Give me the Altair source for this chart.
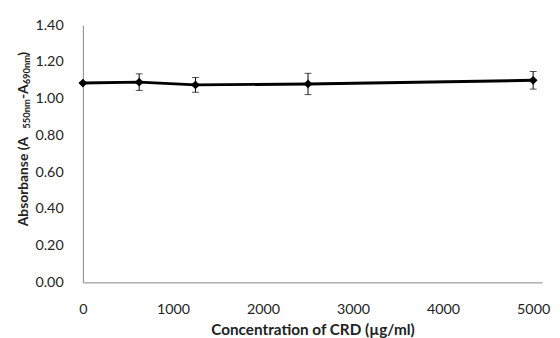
import altair as alt
import pandas as pd

conc = [0, 625, 1250, 2500, 5000]
absorb = [1.085, 1.09, 1.075, 1.08, 1.10]
err = [0.0, 0.045, 0.04, 0.058, 0.048]
x_ticks = [0, 1000, 2000, 3000, 4000, 5000]
y_ticks = [0, 0.2, 0.4, 0.6, 0.8, 1.0, 1.2, 1.4]

df = pd.DataFrame({"conc": conc, "abs": absorb, "err": err})
df["lo"] = df["abs"] - df["err"]
df["hi"] = df["abs"] + df["err"]

FONT = "Lato"
TXT = "#222222"

x_scale = alt.Scale(domain=[0, 5100], nice=False)
y_scale = alt.Scale(domain=[0, 1.4], nice=False)
x_axis = alt.Axis(title="Concentration of CRD (µg/ml)", values=x_ticks,
                  format="d", grid=False, ticks=False, labelPadding=21,
                  domainColor="#868686", titleFontWeight="bold", titlePadding=6,
                  labelFlush=False, labelOverlap=False)
y_axis = alt.Axis(title=None, values=y_ticks,
                  format=".2f", grid=False, ticks=False, labelPadding=20,
                  domainColor="#868686", labelOverlap=False)

base = alt.Chart(df)
bars = base.mark_rule(color="black", strokeWidth=1).encode(
    x=alt.X("conc:Q", scale=x_scale, axis=x_axis),
    y=alt.Y("lo:Q", scale=y_scale, axis=y_axis), y2="hi:Q")
caps_hi = base.mark_tick(color="black", orient="horizontal", size=7, thickness=1).encode(
    x=alt.X("conc:Q", scale=x_scale, axis=x_axis), y=alt.Y("hi:Q", scale=y_scale, axis=y_axis))
caps_lo = base.mark_tick(color="black", orient="horizontal", size=7, thickness=1).encode(
    x=alt.X("conc:Q", scale=x_scale, axis=x_axis), y=alt.Y("lo:Q", scale=y_scale, axis=y_axis))
line = base.mark_line(color="black", strokeWidth=3).encode(
    x=alt.X("conc:Q", scale=x_scale, axis=x_axis), y=alt.Y("abs:Q", scale=y_scale, axis=y_axis))
pts = base.mark_point(shape="diamond", filled=True, color="black", size=80, opacity=1).encode(
    x=alt.X("conc:Q", scale=x_scale, axis=x_axis), y=alt.Y("abs:Q", scale=y_scale, axis=y_axis))

# y-axis title built from pieces so that the subscripts are real subscripts
one = pd.DataFrame({"k": [0]})
def piece(text, ypos, size, xpos):
    return alt.Chart(one).mark_text(
        text=text, angle=270, align="left", baseline="alphabetic",
        font=FONT, fontSize=size, fontWeight="bold", color=TXT,
    ).encode(x=alt.value(xpos), y=alt.value(ypos))

title_parts = [
    piece("Absorbanse (A", 204, 14, -55.7),
    piece("550nm", 105, 9.5, -54),
    piece("-A", 75, 14, -55.7),
    piece("690nm", 60, 9.5, -54),
    piece(")", 31, 14, -55.7),
]

chart = alt.layer(bars, caps_hi, caps_lo, line, pts, *title_parts).properties(
    width=466, height=261,
    autosize=alt.AutoSizeParams(type="none"),
    padding={"left": 76, "top": 15, "right": 10, "bottom": 54},
).configure_view(stroke=None).configure_axis(
    labelFont=FONT, titleFont=FONT, labelFontSize=14.5, titleFontSize=15.5,
    labelColor=TXT, titleColor=TXT, labelOverlap=False
)

chart.save("out.html", embed_options={"renderer": "svg", "actions": False})
